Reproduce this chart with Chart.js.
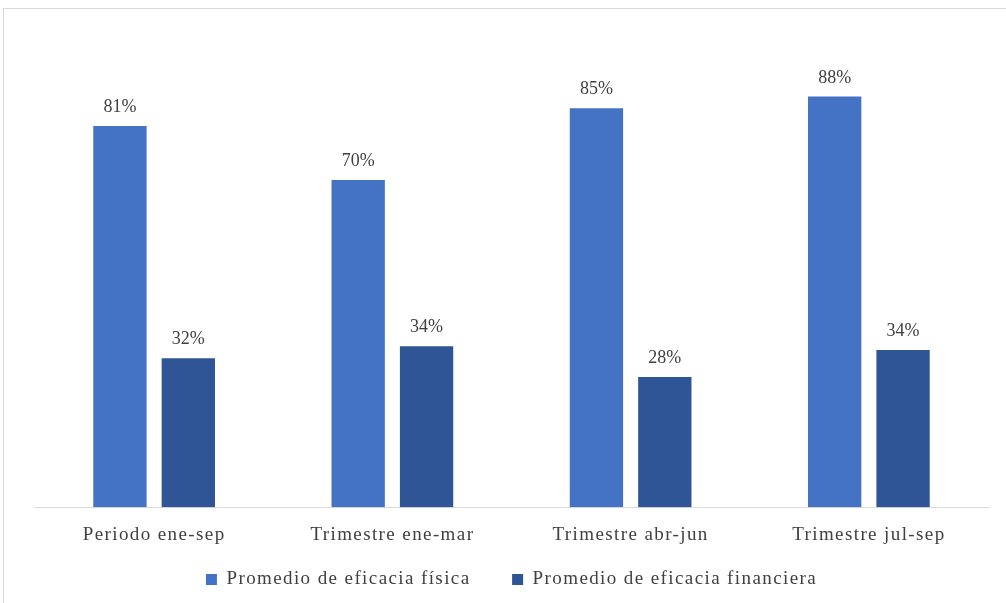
<!DOCTYPE html>
<html>
<head>
<meta charset="utf-8">
<script src="https://cdn.jsdelivr.net/npm/chart.js@4"></script>
<style>
  html, body { margin: 0; padding: 0; background: #fff; overflow: hidden; }
  #frame { position: absolute; left: 3px; top: 8px; width: 1100px; height: 700px; border: 1px solid #d9d9d9; }
  #wrap { position: absolute; left: 0; top: 0; width: 1006px; height: 603px; }
</style>
</head>
<body>
<div id="frame"></div>
<div id="wrap"><canvas id="grafica"></canvas></div>
<script>
var categorias = ['Periodo ene-sep', 'Trimestre ene-mar', 'Trimestre abr-jun', 'Trimestre jul-sep'];
var eficaciaFisica = [81.4, 69.9, 85.2, 87.7];
var eficaciaFinanciera = [31.8, 34.4, 27.8, 33.6];
var nombresSeries = ['Promedio de eficacia física', 'Promedio de eficacia financiera'];

var colorTexto = '#404040';
var fuente = '"Liberation Serif", "Times New Roman", serif';

// espaciado de letras para ejes y leyenda
var espaciado = {
    id: 'espaciado',
    beforeUpdate: function (chart) { chart.ctx.letterSpacing = '1.4px'; },
    beforeDraw: function (chart) { chart.ctx.letterSpacing = '1.4px'; }
};

// etiquetas de porcentaje sobre las barras
var etiquetas = {
    id: 'etiquetas',
    afterDatasetsDraw: function (chart) {
        var ctx = chart.ctx;
        ctx.save();
        ctx.letterSpacing = '0px';
        ctx.font = '18px ' + fuente;
        ctx.fillStyle = colorTexto;
        ctx.textAlign = 'center';
        ctx.textBaseline = 'alphabetic';
        chart.data.datasets.forEach(function (ds, i) {
            chart.getDatasetMeta(i).data.forEach(function (bar, j) {
                ctx.fillText(Math.round(ds.data[j]) + '%', bar.x, bar.y - 14);
            });
        });
        ctx.restore();
    }
};

var ctx = document.getElementById('grafica').getContext('2d');
var chart = new Chart(ctx, {
    type: 'bar',
    data: {
        labels: categorias,
        datasets: [{
            label: nombresSeries[0],
            data: eficaciaFisica,
            backgroundColor: '#4472C4'
        }, {
            label: nombresSeries[1],
            data: eficaciaFinanciera,
            backgroundColor: '#2F5597'
        }]
    },
    options: {
        responsive: true,
        maintainAspectRatio: false,
        animation: false,
        categoryPercentage: 0.574,
        barPercentage: 0.78,
        layout: {
            padding: { left: 35, right: 18, top: 39, bottom: 4 }
        },
        scales: {
            x: {
                grid: { display: false },
                border: { display: true, color: '#d9d9d9', width: 1 },
                ticks: { color: colorTexto, font: { family: fuente, size: 19 }, padding: 8 }
            },
            y: {
                display: false,
                min: 0,
                max: 100
            }
        },
        plugins: {
            legend: {
                position: 'bottom',
                labels: {
                    color: colorTexto,
                    font: { family: fuente, size: 19 },
                    boxWidth: 11,
                    boxHeight: 11,
                    padding: 16,
                    generateLabels: function (chart) {
                        var items = Chart.defaults.plugins.legend.labels.generateLabels(chart);
                        // separación extra entre las dos entradas
                        items[0].text += '\u2003\u2009';
                        return items;
                    }
                }
            },
            tooltip: { enabled: false }
        }
    },
    plugins: [espaciado, etiquetas]
});
</script>
</body>
</html>
